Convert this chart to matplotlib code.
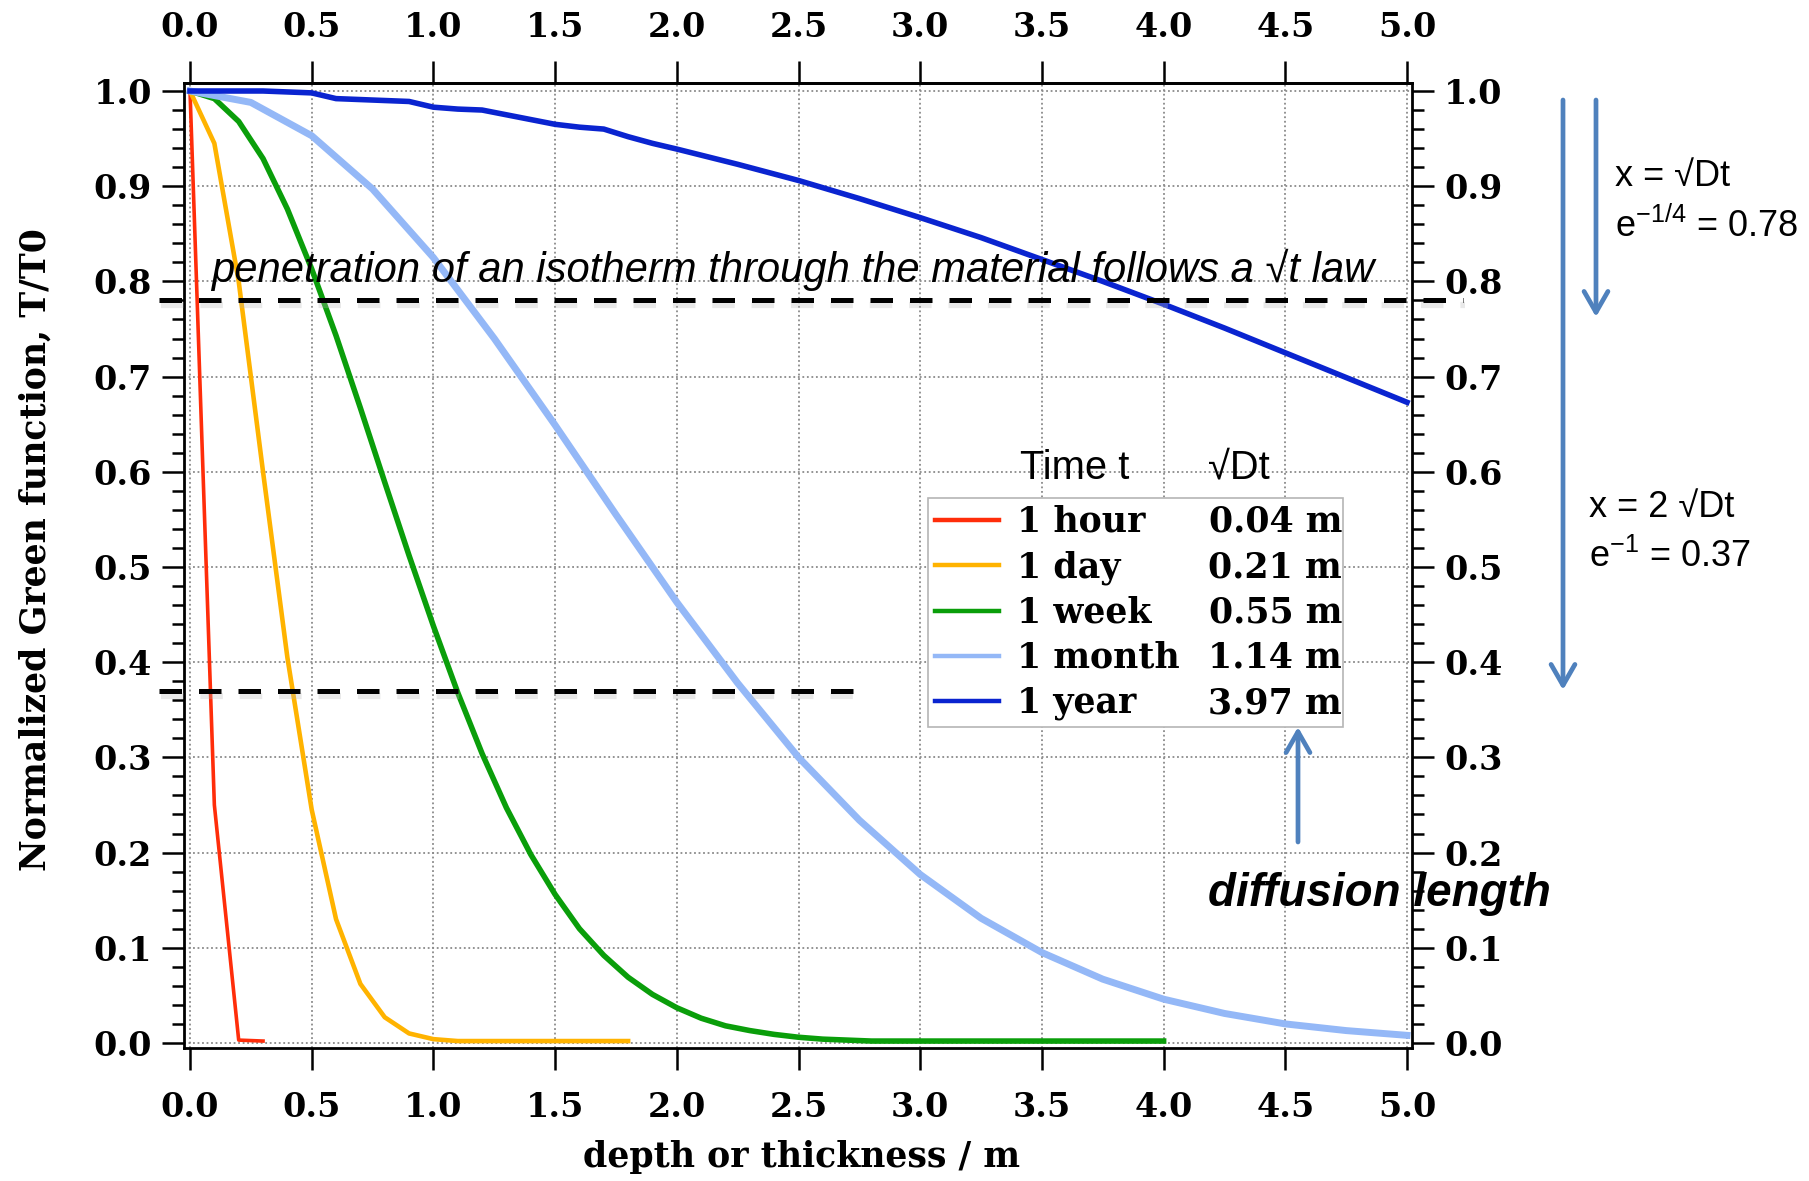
import matplotlib
matplotlib.use("Agg")
import matplotlib.pyplot as plt
from matplotlib import font_manager
from matplotlib import transforms
from matplotlib.lines import Line2D
from matplotlib.ticker import MultipleLocator

# values
x_hour = [0.0, 0.1, 0.2, 0.3]
y_hour = [1.0, 0.25, 0.003, 0.002]

x_day = [0.0, 0.1, 0.2, 0.3, 0.4, 0.5, 0.6, 0.7, 0.8, 0.9, 1.0, 1.1, 1.2, 1.3, 1.4, 1.5, 1.6, 1.7, 1.8]
y_day = [1.0, 0.945, 0.80, 0.60, 0.405, 0.245, 0.13, 0.062, 0.027, 0.010, 0.004, 0.002, 0.002,
         0.002, 0.002, 0.002, 0.002, 0.002, 0.002]

x_week = [0.0, 0.1, 0.2, 0.3, 0.4, 0.5, 0.6, 0.7, 0.8, 0.9, 1.0, 1.1, 1.2, 1.3, 1.4, 1.5, 1.6,
          1.7, 1.8, 1.9, 2.0, 2.1, 2.2, 2.3, 2.4, 2.5, 2.6, 2.7, 2.8, 2.9, 3.0, 3.1, 3.2, 3.3,
          3.4, 3.5, 3.6, 3.7, 3.8, 3.9, 4.0]
y_week = [1.0, 0.992, 0.968, 0.929, 0.876, 0.813, 0.743, 0.667, 0.589, 0.512, 0.438, 0.368,
          0.304, 0.247, 0.198, 0.156, 0.120, 0.092, 0.069, 0.051, 0.037, 0.026, 0.018, 0.013,
          0.009, 0.006, 0.004, 0.003, 0.002, 0.002, 0.002, 0.002, 0.002, 0.002, 0.002, 0.002,
          0.002, 0.002, 0.002, 0.002, 0.002]

x_month = [0.0, 0.25, 0.5, 0.75, 1.0, 1.25, 1.5, 1.75, 2.0, 2.25, 2.5, 2.75, 3.0, 3.25, 3.5,
           3.75, 4.0, 4.25, 4.5, 4.75, 5.0]
y_month = [1.0, 0.988, 0.953, 0.897, 0.825, 0.740, 0.649, 0.555, 0.463, 0.378, 0.300, 0.234,
           0.177, 0.131, 0.095, 0.067, 0.046, 0.031, 0.020, 0.013, 0.008]

x_year = [0.0, 0.1, 0.2, 0.3, 0.4, 0.5, 0.6, 0.7, 0.8, 0.9, 1.0, 1.1, 1.2, 1.3, 1.4, 1.5, 1.6,
          1.7, 1.8, 1.9, 2.0, 2.25, 2.5, 2.75, 3.0, 3.25, 3.5, 3.75, 4.0, 4.25, 4.5, 4.75, 5.0]
y_year = [1.0, 1.0, 1.0, 1.0, 0.999, 0.998, 0.992, 0.991, 0.990, 0.989, 0.983, 0.981, 0.980,
          0.975, 0.970, 0.965, 0.962, 0.960, 0.952, 0.945, 0.939, 0.923, 0.906, 0.887, 0.867,
          0.846, 0.823, 0.800, 0.776, 0.751, 0.725, 0.699, 0.673]

names = ["1 hour", "1 day", "1 week", "1 month", "1 year"]
lengths = ["0.04 m", "0.21 m", "0.55 m", "1.14 m", "3.97 m"]

iso_levels = [0.78, 0.37]
iso_x_start = [-0.127, -0.127]
iso_x_end = [5.23, 2.73]

xticks = [0.0, 0.5, 1.0, 1.5, 2.0, 2.5, 3.0, 3.5, 4.0, 4.5, 5.0]

colors = ["#ff2d0a", "#ffb300", "#0a9e0a", "#94b8f7", "#0a24d0"]
widths = [2.6, 3.3, 4.0, 5.0, 4.0]

installed = {f.name for f in font_manager.fontManager.ttflist}
NARROW = "Liberation Sans Narrow" if "Liberation Sans Narrow" in installed else "Liberation Sans"
nscale = 1.0 if NARROW == "Liberation Sans Narrow" else 0.86

plt.rcParams["font.family"] = "DejaVu Serif"
plt.rcParams["font.weight"] = "bold"
plt.rcParams["axes.labelweight"] = "bold"
plt.rcParams["mathtext.fontset"] = "custom"
plt.rcParams["mathtext.rm"] = "Liberation Sans:normal"
plt.rcParams["mathtext.it"] = "Liberation Sans:italic:normal"

W, H = 1809, 1181
fig = plt.figure(figsize=(W / 100, H / 100), dpi=100)
ax = fig.add_axes([184 / W, 1 - 1048 / H, 1228 / W, 965 / H])

series = [(x_hour, y_hour), (x_day, y_day), (x_week, y_week), (x_month, y_month), (x_year, y_year)]
for (xs, ys), c, lw in zip(series, colors, widths):
    ax.plot(xs, ys, color=c, lw=lw, solid_joinstyle="round", zorder=3)

ax.set_xlim(-0.0247, 5.0205)
ax.set_ylim(-0.0053, 1.0084)
ax.set_xticks(xticks)
ax.yaxis.set_major_locator(MultipleLocator(0.1))
ax.yaxis.set_minor_locator(MultipleLocator(0.02))
ax.tick_params(axis="x", which="major", direction="out",
               length=16, width=1.8, pad=15, labelsize=24)
ax.tick_params(axis="y", which="major", right=True, labelright=True, direction="out",
               length=16, width=1.8, pad=7, labelsize=24)
ax.tick_params(axis="y", which="minor", left=True, right=True, direction="out",
               length=8.5, width=1.8)
for s in ax.spines.values():
    s.set_linewidth(2.0)
ax.grid(which="major", color="#8a8a8a", linestyle=(0, (1, 1.5)), linewidth=1.3)
ax.set_axisbelow(True)

top = ax.secondary_xaxis("top")
top.set_xticks(xticks)
top.tick_params(direction="out", length=16, width=1.8, pad=12, labelsize=24)
top.spines["top"].set_linewidth(2.0)

ax.set_xlabel("depth or thickness / m", fontsize=25, va="center")
ax.xaxis.set_label_coords(0.503, -0.113)
ax.set_ylabel("Normalized Green function, T/T0", fontsize=25, va="center")
ax.yaxis.set_label_coords(-0.121, 0.516)

# isotherm levels, with a soft shadow under them
shadow = transforms.offset_copy(ax.transData, fig=fig, x=2, y=-5, units="dots")
for lev, x0, x1 in zip(iso_levels, iso_x_start, iso_x_end):
    ax.plot([x0, x1], [lev, lev], color="#b8b8b8", alpha=0.3, lw=4.5, dashes=(3.6, 2.7),
            transform=shadow, clip_on=False, zorder=3.5)
    ax.plot([x0, x1], [lev, lev], color="black", lw=3.6, dashes=(4.5, 3.4),
            clip_on=False, zorder=4)

fig.text(211 / W, 1 - 282 / H,
         "penetration of an isotherm through the material follows a \u221at law",
         family=NARROW, style="italic", weight="normal", fontsize=35 * nscale, va="baseline")

# legend with the diffusion length column
handles = [Line2D([], [], color=c, lw=3.2) for c in colors]
leg = ax.legend(handles, names, loc="upper left",
                bbox_to_anchor=(928 / W, 1 - 498 / H, 415 / W, 0.0), bbox_transform=fig.transFigure,
                mode="expand", borderaxespad=0, fancybox=False, edgecolor="#b5b5b5", framealpha=1,
                prop=dict(family="DejaVu Serif", weight="bold", size=25),
                handlelength=1.85, handletextpad=0.5, labelspacing=0.32, borderpad=0.2)
leg.get_frame().set_linewidth(1.2)
leg.set_zorder(5)

fig.text(1020 / W, 1 - 468 / H, "Time t", family=NARROW, weight="normal",
         fontsize=35 * 0.82, va="center")
fig.text(1208 / W, 1 - 468 / H, "\u221aDt", family=NARROW, weight="normal",
         fontsize=35 * 0.82, va="center")

fig.canvas.draw()
for t, val in zip(leg.get_texts(), lengths):
    bb = t.get_window_extent()
    fig.text(1342 / W, bb.y0 / H, val, ha="right", va="bottom",
             family="DejaVu Serif", weight="bold", fontsize=25, zorder=6)

blue = "#4f81bd"
arrow = dict(arrowstyle="->,head_length=0.75,head_width=0.43", color=blue, lw=3.4,
             mutation_scale=20, shrinkA=0, shrinkB=0)
ax.annotate("", xy=(1563 / W, 1 - 690 / H), xytext=(1563 / W, 1 - 100 / H),
            xycoords="figure fraction", textcoords="figure fraction", arrowprops=arrow)
ax.annotate("", xy=(1596 / W, 1 - 317 / H), xytext=(1596 / W, 1 - 100 / H),
            xycoords="figure fraction", textcoords="figure fraction", arrowprops=arrow)
ax.annotate("", xy=(1298 / W, 1 - 727 / H), xytext=(1298 / W, 1 - 842 / H),
            xycoords="figure fraction", textcoords="figure fraction", arrowprops=arrow)

side = dict(family="Liberation Sans", weight="normal", fontsize=26, va="center")
fig.text(1615 / W, 1 - 177 / H, "x = \u221aDt", **side)
fig.text(1615 / W, 1 - 226 / H, r"e$^{-1/4}$ = 0.78", **side)
fig.text(1589 / W, 1 - 508 / H, "x = 2 \u221aDt", **side)
fig.text(1589 / W, 1 - 557 / H, r"e$^{-1}$ = 0.37", **side)

fig.text(1208 / W, 1 - 894 / H, "diffusion length", family=NARROW, weight="bold",
         style="italic", fontsize=37 * 0.89, va="center")

fig.savefig("out.png", dpi=100)
